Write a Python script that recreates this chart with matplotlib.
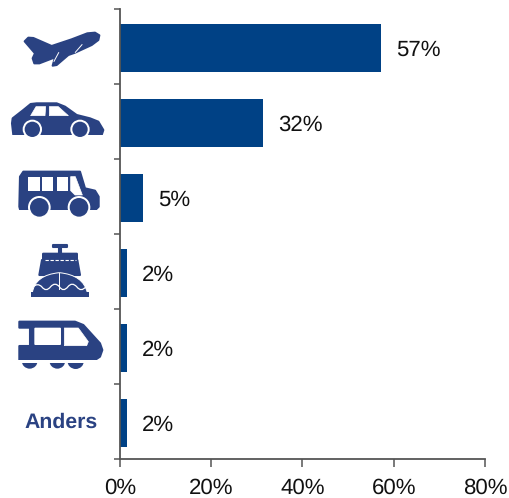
import matplotlib
matplotlib.use('Agg')
import matplotlib.pyplot as plt
from matplotlib.patches import Polygon, Circle, Rectangle, FancyBboxPatch, PathPatch, Wedge
from matplotlib.path import Path

plt.rcParams['font.family'] = ['Liberation Sans', 'DejaVu Sans']
plt.rcParams['text.hinting'] = 'none'

categories = ['Vliegtuig', 'Auto', 'Bus', 'Boot', 'Trein', 'Anders']
values = [57.2, 31.3, 5.0, 1.5, 1.5, 1.5]
value_labels = ['57%', '32%', '5%', '2%', '2%', '2%']
x_ticks = [0, 20, 40, 60, 80]
x_tick_labels = ['0%', '20%', '40%', '60%', '80%']

BAR = '#004185'
ICON = '#2A4282'
AXIS = '#555555'

fig = plt.figure(figsize=(5.10, 4.98), dpi=100)
W, H = 510, 498
ax = fig.add_axes([120 / W, 1 - 459 / H, 365 / W, 450 / H])

ypos = list(range(len(categories)))
ax.barh([y + 0.015 for y in ypos], values, height=0.64, color=BAR)
for y, v, lab in zip(ypos, values, value_labels):
    ax.text(v + 3.35, y + 0.05, lab, va='center', ha='left', fontsize=16, color='#111111')

ax.set_xlim(0, 80)
ax.set_ylim(5.5, -0.5)
ax.set_xticks(x_ticks)
ax.set_xticklabels(x_tick_labels, fontsize=16, color='#111111')
ax.set_yticks([i - 0.5 for i in range(len(categories) + 1)])
ax.set_yticklabels([])
ax.tick_params(axis='x', length=5.5, width=1.1, color=AXIS, pad=8)
ax.tick_params(axis='y', length=4, width=1.1, color=AXIS)
ax.spines[['top', 'right']].set_visible(False)
ax.spines[['left', 'bottom']].set_color(AXIS)
ax.spines[['left', 'bottom']].set_linewidth(1.3)

# overlay for the icons, coordinates are 3x pixels
ic = fig.add_axes([0, 0, 1, 1], facecolor='none')
ic.set_xlim(0, W * 3)
ic.set_ylim(H * 3, 0)
ic.axis('off')


def poly(pts, color=ICON, dy=0, lw=1.5):
    pts = [(x, y + dy) for x, y in pts]
    ic.add_patch(Polygon(pts, closed=True, fc=color, ec=color, lw=lw, joinstyle='round'))


def disc(x, y, r, color=ICON):
    ic.add_patch(Circle((x, y), r, fc=color, ec='none'))


# plane
poly([(298, 106), (285, 98), (262, 100), (215, 118), (155, 138), (100, 114), (85, 113),
      (74, 124), (105, 160), (98, 175), (103, 190), (118, 190), (165, 172), (158, 197),
      (170, 195), (205, 165), (225, 158), (275, 135), (295, 120)])
ic.plot([162, 176], [184, 158], color='white', lw=0.7)
ic.plot([226, 246], [157, 134], color='white', lw=0.7)

# car
poly([(38, 355), (70, 330), (92, 312), (110, 310), (170, 310), (195, 320), (230, 345),
      (270, 355), (295, 365), (310, 390), (305, 405), (40, 405), (36, 370)])
for cx in (97, 240):
    disc(cx, 388, 29, 'white')
ic.add_patch(Rectangle((30, 406), 290, 20, fc='white', ec='none', zorder=1.5))
for cx in (97, 240):
    ic.add_patch(Circle((cx, 388), 23, fc=ICON, ec='none', zorder=2))
poly([(92, 347), (108, 320), (137, 320), (135, 347)], 'white', lw=0.5)
poly([(148, 320), (175, 320), (205, 347), (148, 347)], 'white', lw=0.5)

# bus
poly([(60, 530), (70, 515), (240, 515), (255, 565), (285, 572), (296, 590), (296, 620),
      (288, 628), (60, 628), (58, 620)])
for cx in (118, 237):
    disc(cx, 622, 34, 'white')
ic.add_patch(Rectangle((50, 629), 260, 30, fc='white', ec='none', zorder=1.5))
for cx in (118, 237):
    ic.add_patch(Circle((cx, 622), 28, fc=ICON, ec='none', zorder=2))
for x0, w in ((84, 36), (127, 33), (170, 33)):
    ic.add_patch(Rectangle((x0, 530), w, 42, fc='white', ec='none'))
poly([(212, 530), (226, 530), (247, 585), (225, 585), (212, 572)], 'white', lw=0.5)

# ship, zoom coordinates start at y=230px
dy = 690
poly([(160, 46), (200, 46), (200, 52), (160, 52)], dy=dy)
poly([(176, 52), (184, 52), (184, 68), (176, 68)], dy=dy)
ic.add_patch(FancyBboxPatch((130, 72 + dy), 100, 14, boxstyle='round,pad=4', fc=ICON, ec='none'))
poly([(126, 90), (232, 90), (240, 135), (118, 135)], dy=dy)
ic.plot([135, 228], [91 + dy, 91 + dy], color='white', lw=0.8, ls=(0, (3, 1.5)))
dome = Path([(97, 188 + dy), (105, 135 + dy), (178, 128 + dy), (250, 135 + dy), (262, 188 + dy), (97, 188 + dy)],
            [Path.MOVETO, Path.CURVE3, Path.LINETO, Path.CURVE3, Path.LINETO, Path.CLOSEPOLY])
ic.add_patch(PathPatch(dome, fc=ICON, ec='white', lw=0.7))
ic.plot([176, 176], [128 + dy, 178 + dy], color='white', lw=0.7)
wave = Path([(100, 170 + dy), (113, 158 + dy), (125, 170 + dy), (138, 188 + dy), (152, 170 + dy),
             (165, 155 + dy), (178, 170 + dy), (190, 188 + dy), (204, 170 + dy), (216, 155 + dy),
             (230, 170 + dy), (243, 188 + dy), (258, 170 + dy)],
            [Path.MOVETO] + [Path.CURVE3] * 12)
ic.add_patch(PathPatch(wave, fc='none', ec='white', lw=0.9))
ic.add_patch(Rectangle((92, 186 + dy), 176, 16, fc=ICON, ec='none'))

# train
poly([(58, 275), (225, 275), (250, 285), (300, 340), (307, 360), (300, 380), (285, 390),
      (58, 390), (58, 348), (90, 348), (90, 293), (58, 293)], dy=dy)
ic.add_patch(FancyBboxPatch((106, 296 + dy), 74, 46, boxstyle='round,pad=3', fc='white', ec='none'))
poly([(193, 294), (235, 294), (265, 335), (260, 347), (193, 347)], 'white', dy=dy, lw=0.5)
for c, r in ((89, 24), (172, 24), (227, 25)):
    ic.add_patch(Wedge((c, 392 + dy), r, 0, 180, fc=ICON, ec='none'))
ic.add_patch(Rectangle((50, 391 + dy), 260, 7, fc='white', ec='none', zorder=1.5))

ic.text(182, 578 + dy, 'Anders', ha='center', va='center', fontsize=15.3, fontweight='bold', color=ICON)

fig.savefig('out.png', dpi=100)
